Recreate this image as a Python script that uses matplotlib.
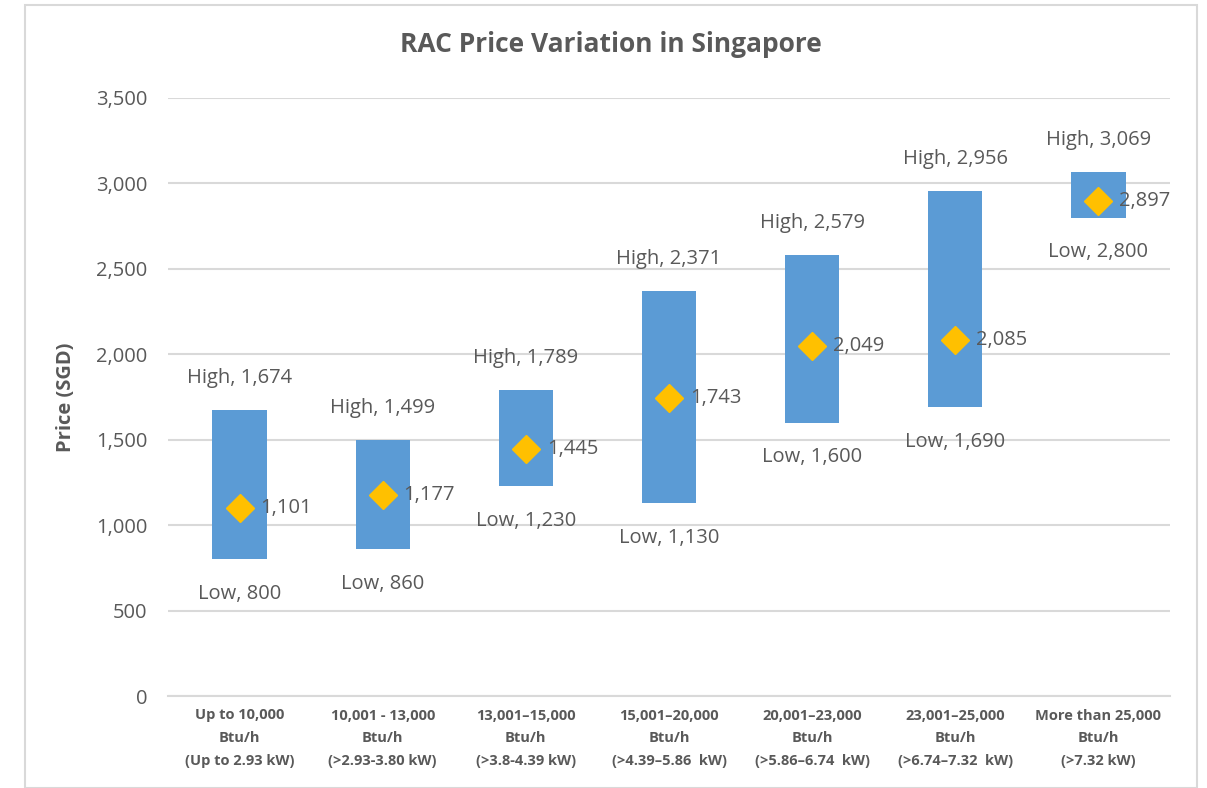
import matplotlib
matplotlib.use("Agg")
import matplotlib.pyplot as plt
from matplotlib.patches import Rectangle

categories = [
    "Up to 10,000\nBtu/h\n(Up to 2.93 kW)",
    "10,001 - 13,000\nBtu/h\n(>2.93-3.80 kW)",
    "13,001\u201315,000\nBtu/h\n(>3.8-4.39 kW)",
    "15,001\u201320,000\nBtu/h\n(>4.39\u20135.86  kW)",
    "20,001\u201323,000\nBtu/h\n(>5.86\u20136.74  kW)",
    "23,001\u201325,000\nBtu/h\n(>6.74\u20137.32  kW)",
    "More than 25,000\nBtu/h\n(>7.32 kW)",
]
low = [800, 860, 1230, 1130, 1600, 1690, 2800]
high = [1674, 1499, 1789, 2371, 2579, 2956, 3069]
mean = [1101, 1177, 1445, 1743, 2049, 2085, 2897]
yticks = [0, 500, 1000, 1500, 2000, 2500, 3000, 3500]

plt.rcParams['font.family'] = ['Open Sans', 'DejaVu Sans']
TXT = '#595959'
fig = plt.figure(figsize=(12.07, 7.88), dpi=100)
fig.patches.append(Rectangle((25/1207, 0), (1197-25)/1207, 1 - 5/788, transform=fig.transFigure,
                             fill=False, edgecolor='#D9D9D9', lw=1.5))
ax = fig.add_axes([168/1207, 1 - 696/788, (1170-168)/1207, (696-98)/788])

x = list(range(len(categories)))
heights = [h - l for h, l in zip(high, low)]
ax.bar(x, heights, bottom=low, width=0.38, color='#5B9BD5', zorder=3)
ax.plot(x, mean, linestyle='none', marker='D', ms=14, color='#FFC000', zorder=4)

FS = 14.5
for i in x:
    ax.annotate(f"High, {high[i]:,}", (i, high[i]), xytext=(0, 23), textcoords='offset points',
                ha='center', va='center', fontsize=FS, color=TXT)
    ax.annotate(f"Low, {low[i]:,}", (i, low[i]), xytext=(0, -25), textcoords='offset points',
                ha='center', va='center', fontsize=FS, color=TXT)
    ax.annotate(f"{mean[i]:,}", (i, mean[i]), xytext=(15, 0), textcoords='offset points',
                ha='left', va='center', fontsize=FS, color=TXT, zorder=5)

ax.set_xlim(-0.5, len(categories) - 0.5)
ax.set_ylim(0, 3500)
ax.set_yticks(yticks)
ax.set_yticklabels([f"{v:,}" for v in yticks], fontsize=14.5, color=TXT)
ax.set_xticks(x)
ax.set_xticklabels(categories, fontsize=10.5, fontweight='bold', color=TXT, linespacing=1.8)
ax.tick_params(axis='both', length=0)
ax.tick_params(axis='y', pad=15)
ax.tick_params(axis='x', pad=9)
ax.grid(axis='y', color='#D9D9D9', lw=1.5, zorder=0)
for s in ['top', 'right', 'left']:
    ax.spines[s].set_visible(False)
ax.spines['bottom'].set_color('#D9D9D9')
ax.spines['bottom'].set_linewidth(1.5)
ax.set_ylabel("Price (SGD)", fontsize=14.5, fontweight='bold', color=TXT, labelpad=14)
fig.text(611/1207, 1 - 45/788, "RAC Price Variation in Singapore", ha='center', va='center',
         fontsize=19, fontweight='bold', color=TXT)
fig.savefig("out.png", dpi=100)
